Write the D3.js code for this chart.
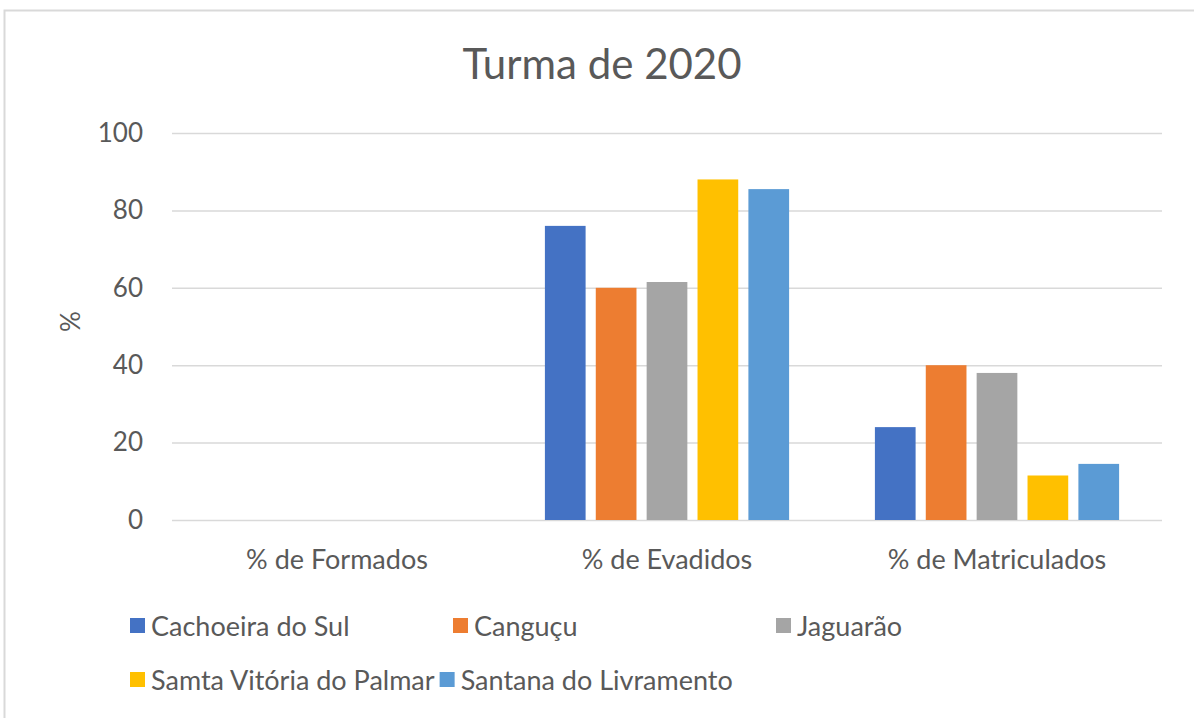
<!DOCTYPE html>
<html>
<head>
<meta charset="utf-8">
<script src="https://cdn.jsdelivr.net/npm/d3@7"></script>
<style>
  body { margin: 0; background: #fff; }
  svg { display: block; font-family: Lato, "Noto Sans", sans-serif; }
</style>
</head>
<body>
<div id="chart"></div>
<script>
// Chart data
const categories = ['% de Formados', '% de Evadidos', '% de Matriculados'];
const seriesNames = ['Cachoeira do Sul', 'Canguçu', 'Jaguarão', 'Samta Vitória do Palmar', 'Santana do Livramento'];
const formados = [0, 0, 0, 0, 0];
const evadidos = [76, 60, 61.5, 88, 85.5];
const matriculados = [24, 40, 38, 11.5, 14.5];
const yTicks = [0, 20, 40, 60, 80, 100];
const colors = ['#4472C4', '#ED7D31', '#A5A5A5', '#FFC000', '#5B9BD5'];

const values = [formados, evadidos, matriculados];

const width = 1194;
const height = 718;
const margins = { top: 133, right: 32, bottom: 198, left: 172 };
const innerWidth = width - margins.left - margins.right;
const innerHeight = height - margins.top - margins.bottom;
const textColor = '#595959';

const svg = d3.select('#chart').append('svg')
    .attr('width', width)
    .attr('height', height);

// outer frame (only top + left edges visible in the crop)
svg.append('path')
    .attr('d', `M4.5,${height} V10.5 H${width}`)
    .attr('fill', 'none')
    .attr('stroke', '#d9d9d9')
    .attr('stroke-width', 2);

svg.append('text')
    .attr('x', 602)
    .attr('y', 79)
    .attr('text-anchor', 'middle')
    .attr('font-size', 42)
    .attr('fill', textColor)
    .text('Turma de 2020');

const g = svg.append('g')
    .attr('transform', `translate(${margins.left}, ${margins.top})`);

const x0 = d3.scaleBand()
    .domain(categories)
    .range([0, innerWidth])
    .paddingInner(0.26)
    .paddingOuter(0.13);
const x1 = d3.scaleBand()
    .domain(seriesNames)
    .range([0, x0.bandwidth()])
    .paddingInner(0.2);
const y = d3.scaleLinear()
    .domain([0, 100])
    .range([innerHeight, 0]);

const yAxis = d3.axisLeft(y)
    .tickValues(yTicks)
    .tickSize(-innerWidth)
    .tickPadding(29);

const yAxisG = g.append('g').call(yAxis);
yAxisG.attr('font-family', 'Lato, sans-serif').attr('font-size', 26);
yAxisG.select('.domain').remove();
yAxisG.selectAll('.tick line').attr('stroke', '#d9d9d9').attr('stroke-width', 1.5);
yAxisG.selectAll('.tick text').attr('fill', textColor);

svg.append('text')
    .attr('transform', `translate(80, ${margins.top + innerHeight / 2 - 5}) rotate(-90)`)
    .attr('text-anchor', 'middle')
    .attr('font-size', 26)
    .attr('fill', textColor)
    .text('%');

const groups = g.selectAll('g.cat')
    .data(categories)
    .enter().append('g')
    .attr('class', 'cat')
    .attr('transform', d => `translate(${x0(d)}, 0)`);

groups.selectAll('rect')
    .data((d, i) => seriesNames.map((s, j) => ({ s, v: values[i][j], c: colors[j] })))
    .enter().append('rect')
    .attr('x', d => x1(d.s))
    .attr('width', x1.bandwidth())
    .attr('y', d => y(d.v))
    .attr('height', d => innerHeight - y(d.v))
    .attr('fill', d => d.c);

// category labels
g.selectAll('text.cat-label')
    .data(categories)
    .enter().append('text')
    .attr('class', 'cat-label')
    .attr('x', d => x0(d) + x0.bandwidth() / 2)
    .attr('y', innerHeight + 49)
    .attr('text-anchor', 'middle')
    .attr('font-size', 27)
    .attr('fill', textColor)
    .text(d => d);

// legend: first row on fixed columns, second row packed
const legend = svg.append('g');
const colStep = 323;
const rows = [[0, 1, 2], [3, 4]];
rows.forEach((row, r) => {
  let cx = 130;
  row.forEach(i => {
    const item = legend.append('g').attr('transform', `translate(${cx}, ${626 + r * 54})`);
    item.append('rect')
        .attr('x', 0).attr('y', -8)
        .attr('width', 15).attr('height', 15)
        .attr('fill', colors[i]);
    const t = item.append('text')
        .attr('x', 21).attr('y', 10)
        .attr('font-size', 27)
        .attr('fill', textColor)
        .text(seriesNames[i]);
    cx += r === 0 ? colStep : 21 + t.node().getComputedTextLength() + 5;
  });
});
</script>
</body>
</html>
